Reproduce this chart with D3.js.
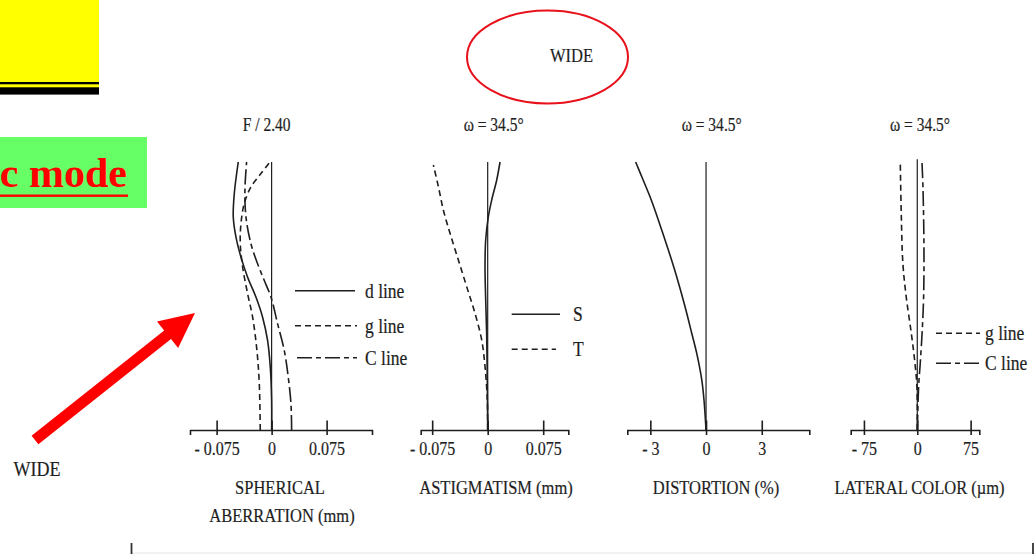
<!DOCTYPE html>
<html>
<head>
<meta charset="utf-8">
<script src="https://cdn.jsdelivr.net/npm/d3@7"></script>
<style>
  html, body { margin: 0; padding: 0; background: #ffffff; }
  svg { display: block; }
  text { font-family: "Liberation Serif", "Times New Roman", serif; fill: #1e1e1e; }
  text.cond { stroke: #1e1e1e; stroke-width: 0.2px; }
</style>
</head>
<body>
<svg id="chart" width="1035" height="554"></svg>
<script>
// ---------------- DATA ----------------
// Panel titles and axis labels
const panelTitles = ["F / 2.40", "\u03c9 = 34.5\u00b0", "\u03c9 = 34.5\u00b0", "\u03c9 = 34.5\u00b0"];
const axisLabelsLine1 = ["SPHERICAL", "ASTIGMATISM (mm)", "DISTORTION (%)", "LATERAL COLOR (\u00b5m)"];
const axisLabelsLine2 = ["ABERRATION (mm)", "", "", ""];

// Tick values and tick labels
const saTicks = [-0.075, 0, 0.075];
const saTickLabels = ["- 0.075", "0", "0.075"];
const asTicks = [-0.075, 0, 0.075];
const asTickLabels = ["- 0.075", "0", "0.075"];
const diTicks = [-3, 0, 3];
const diTickLabels = ["- 3", "0", "3"];
const lcTicks = [-75, 0, 75];
const lcTickLabels = ["- 75", "0", "75"];

// Spherical aberration (mm) vs normalized pupil height
const saD_h = [0, 0.11, 0.234, 0.334, 0.421, 0.496, 0.570, 0.645, 0.720, 0.795, 0.882, 1.0];
const saD_v = [0, 0, -0.0018, -0.0055, -0.0123, -0.0214, -0.0327, -0.0418, -0.0486, -0.0523, -0.0509, -0.0455];
const saG_h = [0, 0.172, 0.296, 0.421, 0.508, 0.608, 0.695, 0.770, 0.845, 0.907, 0.957, 1.0];
const saG_v = [-0.0155, -0.0168, -0.0200, -0.0259, -0.0327, -0.0395, -0.0427, -0.0418, -0.0373, -0.0282, -0.0145, -0.0023];
const saC_h = [0, 0.097, 0.197, 0.296, 0.396, 0.496, 0.558, 0.620, 0.695, 0.795, 0.894, 1.0];
const saC_v = [0.0273, 0.0264, 0.0227, 0.0173, 0.0082, -0.0009, -0.0100, -0.0191, -0.0282, -0.0350, -0.0364, -0.0341];

// Astigmatism (mm) vs normalized field
const asS_h = [0, 0.174, 0.361, 0.485, 0.609, 0.709, 0.796, 0.858, 0.933, 1.0];
const asS_v = [0, -0.0005, -0.0014, -0.0027, -0.0036, -0.0027, 0.0009, 0.0054, 0.0122, 0.0167];
const asT_h = [0, 0.112, 0.236, 0.336, 0.435, 0.535, 0.634, 0.734, 0.821, 0.908, 0.989];
const asT_v = [0, -0.0005, -0.0036, -0.0081, -0.0171, -0.0284, -0.0396, -0.0509, -0.0599, -0.0666, -0.0734];

// Distortion (%) vs normalized field
const di_h = [0, 0.112, 0.187, 0.286, 0.361, 0.46, 0.572, 0.672, 0.784, 0.871, 0.945, 1.0];
const di_v = [0, -0.11, -0.23, -0.50, -0.77, -1.13, -1.58, -2.03, -2.57, -3.02, -3.46, -3.79];

// Lateral color (um) vs normalized field
const lcG_h = [0, 0.163, 0.262, 0.361, 0.496, 0.62, 0.805, 1.0];
const lcG_v = [0, -0.5, -3.8, -8.4, -15.5, -20.2, -22.5, -23.9];
const lcC_h = [0, 0.163, 0.25, 0.373, 0.496, 0.681, 0.904, 1.0];
const lcC_v = [0, 1.9, 4.2, 7.0, 8.9, 9.4, 8.0, 6.6];

// Legend labels
const saLegend = ["d line", "g line", "C line"];
const asLegend = ["S", "T"];
const lcLegend = ["g line", "C line"];

// ---------------- DRAWING ----------------
const svg = d3.select("#chart");
const INK = "#1e1e1e";
const DASH = "6,4";
const DASHDOT = "15,4,5,4";

svg.append("rect").attr("width", 1035).attr("height", 554).attr("fill", "#ffffff");

// Decorative slide elements
svg.append("rect").attr("x", 0).attr("y", 0).attr("width", 99).attr("height", 95).attr("fill", "#ffff00");
svg.append("rect").attr("x", 0).attr("y", 82).attr("width", 99).attr("height", 2.3).attr("fill", "#000");
svg.append("rect").attr("x", 0).attr("y", 87.3).attr("width", 99).attr("height", 6.7).attr("fill", "#000");
svg.append("rect").attr("x", 0).attr("y", 94).attr("width", 99).attr("height", 1).attr("fill", "#666");

svg.append("rect").attr("x", 0).attr("y", 137).attr("width", 147).attr("height", 71).attr("fill", "#66ff66");
svg.append("text").attr("x", 127).attr("y", 187).attr("text-anchor", "end")
  .style("font-size", "42px").style("font-weight", "bold").style("fill", "#ff0000")
  .text("c mode");
svg.append("rect").attr("x", 0).attr("y", 194.5).attr("width", 128).attr("height", 2.4).attr("fill", "#ff0000");

svg.append("ellipse").attr("cx", 547.5).attr("cy", 57).attr("rx", 80.5).attr("ry", 46.5)
  .attr("fill", "none").attr("stroke", "#e8101a").attr("stroke-width", 2);
svg.append("text").attr("class", "cond").attr("x", 571.5).attr("y", 62).attr("text-anchor", "middle")
  .style("font-size", "16.5px").text("WIDE");

function arrowPath(x1, y1, x2, y2, sw, hw, hl) {
  const dx = x2 - x1, dy = y2 - y1, L = Math.hypot(dx, dy);
  const ux = dx / L, uy = dy / L, nx = -uy, ny = ux;
  const bx = x2 - ux * hl, by = y2 - uy * hl;
  const p = [
    [x1 + nx * sw / 2, y1 + ny * sw / 2],
    [bx + nx * sw / 2, by + ny * sw / 2],
    [bx + nx * hw / 2, by + ny * hw / 2],
    [x2, y2],
    [bx - nx * hw / 2, by - ny * hw / 2],
    [bx - nx * sw / 2, by - ny * sw / 2],
    [x1 - nx * sw / 2, y1 - ny * sw / 2]
  ];
  return "M" + p.map(d => d.join(",")).join("L") + "Z";
}
svg.append("path").attr("d", arrowPath(35, 440, 195, 313, 11, 34, 35)).attr("fill", "#ff0000");
svg.append("text").attr("class", "cond").attr("x", 37).attr("y", 476).attr("text-anchor", "middle")
  .style("font-size", "18px").text("WIDE");

// bottom frame marks
svg.append("line").attr("x1", 131).attr("x2", 1033).attr("y1", 553).attr("y2", 553)
  .attr("stroke", "#e4e4e4").attr("stroke-width", 1);
svg.append("line").attr("x1", 131.5).attr("x2", 131.5).attr("y1", 543).attr("y2", 554)
  .attr("stroke", "#333").attr("stroke-width", 1.8);
svg.append("line").attr("x1", 1033).attr("x2", 1033).attr("y1", 543).attr("y2", 554)
  .attr("stroke", "#333").attr("stroke-width", 1.8);

// Shared vertical scale (normalized height / field)
const y = d3.scaleLinear().domain([0, 1]).range([430, 162]);

// Horizontal scales per panel (domain = full axis extent)
const panels = [
  { x: d3.scaleLinear().domain([-0.1113, 0.1369]).range([190, 372]), ticks: saTicks, labels: saTickLabels, cx: 266.7, lx: 280 },
  { x: d3.scaleLinear().domain([-0.0905, 0.1089]).range([420.7, 568.3]), ticks: asTicks, labels: asTickLabels, cx: 493.7, lx: 496 },
  { x: d3.scaleLinear().domain([-4.24, 5.56]).range([627.3, 809.3]), ticks: diTicks, labels: diTickLabels, cx: 711.7, lx: 716 },
  { x: d3.scaleLinear().domain([-93.6, 87.2]).range([850.7, 979.3]), ticks: lcTicks, labels: lcTickLabels, cx: 920, lx: 919.5 }
];

panels.forEach((p, i) => {
  const g = svg.append("g");
  // zero reference line
  g.append("line").attr("x1", p.x(0)).attr("x2", p.x(0)).attr("y1", y(0)).attr("y2", y(i === 3 ? 1.01 : 1))
    .attr("stroke", INK).attr("stroke-width", 1.2);
  // axis
  const ax = g.append("g").attr("transform", `translate(0,${y(0)})`)
    .call(d3.axisBottom(p.x).tickValues(p.ticks).tickSizeOuter(0).tickSize(5)
      .tickFormat((d, k) => p.labels[k]));
  ax.attr("font-family", null).attr("font-size", null);
  ax.select(".domain").attr("stroke", INK).attr("stroke-width", 1.6);
  ax.selectAll(".tick line").attr("y1", -9.5).attr("y2", 5).attr("stroke", INK).attr("stroke-width", 1.6);
  ax.selectAll(".tick text").attr("class", "cond").attr("y", 25).attr("dy", null)
    .style("font-size", "16px").style("font-family", "'Liberation Serif', serif").attr("fill", INK);
  // title
  svg.append("text").attr("class", "cond").attr("x", p.cx).attr("y", 131).attr("text-anchor", "middle")
    .style("font-size", "15.5px").text(panelTitles[i]);
  // axis labels
  svg.append("text").attr("class", "cond").attr("x", p.lx).attr("y", 494).attr("text-anchor", "middle")
    .style("font-size", "16.5px").text(axisLabelsLine1[i]);
  if (axisLabelsLine2[i]) {
    svg.append("text").attr("class", "cond").attr("x", 282).attr("y", 522).attr("text-anchor", "middle")
      .style("font-size", "16.5px").text(axisLabelsLine2[i]);
  }
});

function series(panel, hs, vs, dash) {
  const pts = hs.map((h, k) => [panel.x(vs[k]), y(h)]);
  svg.append("path").attr("d", d3.line().curve(d3.curveCatmullRom.alpha(0.5))(pts))
    .attr("fill", "none").attr("stroke", INK).attr("stroke-width", 1.6)
    .attr("stroke-dasharray", dash);
}

// Spherical aberration
series(panels[0], saD_h, saD_v, null);
series(panels[0], saG_h, saG_v, DASH);
series(panels[0], saC_h, saC_v, DASHDOT);
// Astigmatism
series(panels[1], asS_h, asS_v, null);
series(panels[1], asT_h, asT_v, DASH);
// Distortion
series(panels[2], di_h, di_v, null);
// Lateral color
series(panels[3], lcG_h, lcG_v, DASH);
series(panels[3], lcC_h, lcC_v, DASHDOT);

// Legends
function legendItem(x1, x2, ly, dash, label, tx) {
  svg.append("line").attr("x1", x1).attr("x2", x2).attr("y1", ly).attr("y2", ly)
    .attr("stroke", INK).attr("stroke-width", 1.6).attr("stroke-dasharray", dash);
  svg.append("text").attr("class", "cond").attr("x", tx).attr("y", ly + 7).style("font-size", "17.5px").text(label);
}
legendItem(295, 355, 290.7, null, saLegend[0], 365);
legendItem(295, 357, 325.7, DASH, saLegend[1], 365);
legendItem(297, 357, 357.7, DASHDOT, saLegend[2], 365);

legendItem(511.7, 560, 314.3, null, asLegend[0], 573);
legendItem(511.7, 556, 349.3, DASH, asLegend[1], 573);

legendItem(936, 980, 333.3, DASH, lcLegend[0], 985);
legendItem(936, 980, 363.3, DASHDOT, lcLegend[1], 985);

// Condensed, taller serif look as in the scanned figure: keep width, enlarge glyph height
svg.selectAll("text.cond").each(function () {
  const w = this.getComputedTextLength();
  const fs = parseFloat(this.style.fontSize);
  this.style.fontSize = (fs * 1.16) + "px";
  this.setAttribute("textLength", w);
  this.setAttribute("lengthAdjust", "spacingAndGlyphs");
});
</script>
</body>
</html>
